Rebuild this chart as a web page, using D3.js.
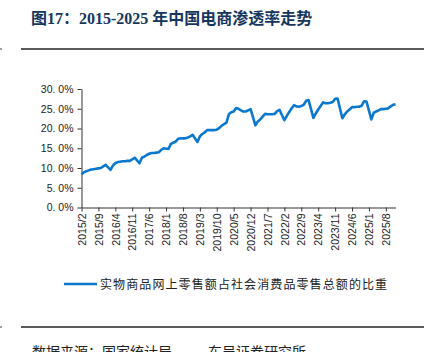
<!DOCTYPE html>
<html>
<head>
<meta charset="utf-8">
<script src="https://cdn.jsdelivr.net/npm/d3@7"></script>
<style>
  body { margin: 0; background: #fff; }
  svg { display: block; }
</style>
</head>
<body>
<svg id="chart"></svg>
<script>
// data: share of online physical goods in total retail sales (%), Jan not published
var years = [2015, 2016, 2017, 2018, 2019, 2020, 2021, 2022, 2023, 2024, 2025];
var share2015 = [8.4, 8.9, 9.2, 9.4, 9.6, 9.7, 9.8, 9.9, 10.0, 10.4, 10.8]; // Feb..Dec
var share2016 = [null, 9.5, 10.6, 11.2, 11.5, 11.6, 11.7, 11.7, 11.8, 11.8, 12.2, 12.6];
var share2017 = [null, 11.2, 12.6, 12.9, 13.3, 13.6, 13.8, 13.8, 13.9, 14.0, 14.6, 15.0];
var share2018 = [null, 14.8, 16.1, 16.4, 16.7, 17.4, 17.5, 17.5, 17.5, 17.7, 18.0, 18.4];
var share2019 = [null, 16.6, 18.0, 18.6, 19.0, 19.6, 19.6, 19.6, 19.6, 19.7, 20.1, 20.7];
var share2020 = [null, 21.5, 23.6, 24.1, 24.3, 25.2, 25.0, 24.6, 24.3, 24.3, 24.6, 24.9];
var share2021 = [null, 20.8, 21.8, 22.3, 23.0, 23.7, 23.6, 23.6, 23.6, 23.7, 24.4, 24.7];
var share2022 = [null, 22.1, 23.2, 24.2, 25.1, 25.9, 25.6, 25.5, 25.7, 26.0, 27.0, 27.2];
var share2023 = [null, 22.7, 23.8, 24.8, 25.7, 26.6, 26.4, 26.4, 26.5, 26.7, 27.5, 27.6];
var share2024 = [null, 22.6, 23.6, 24.3, 24.8, 25.4, 25.4, 25.5, 25.5, 25.8, 26.9, 26.8];
var share2025 = [null, 22.3, 24.0, 24.3, 24.6, 24.9, 24.9, 25.0, 25.1, 25.6, 26.0, 26.1];

var yTicks = [0, 5, 10, 15, 20, 25, 30];
var title = "图17：2015-2025 年中国电商渗透率走势";
var seriesName = "实物商品网上零售额占社会消费品零售总额的比重";
var sourceA = "数据来源：国家统计局，";
var sourceB = "东吴证券研究所";

var width = 429;
var height = 352;

// build month categories
var rows = [share2015, share2016, share2017, share2018, share2019, share2020,
            share2021, share2022, share2023, share2024, share2025];
var data = [];
years.forEach(function (yr, i) {
  var startM = yr === 2015 ? 2 : 1;
  rows[i].forEach(function (v, j) {
    data.push({ cat: yr + "/" + (startM + j), v: v });
  });
});
var cats = data.map(d => d.cat);
var xTickCats = cats.filter((c, i) => i % 7 === 0);

var svg = d3.select("#chart")
  .attr("width", width)
  .attr("height", height);

svg.append("rect").attr("width", width).attr("height", height).attr("fill", "#fff");

// title + rules
svg.append("text")
  .attr("x", 31)
  .attr("y", 24)
  .attr("font-family", "'Liberation Serif', 'Noto Sans CJK SC', serif")
  .attr("font-weight", "bold")
  .attr("font-size", 16)
  .attr("fill", "#17365d")
  .text(title);

[49, 327].forEach(function (yy) {
  svg.append("line").attr("x1", 21).attr("x2", 424).attr("y1", yy).attr("y2", yy)
    .attr("stroke", "#222").attr("stroke-width", 1.5);
  svg.append("line").attr("x1", 0).attr("x2", 2).attr("y1", yy).attr("y2", yy)
    .attr("stroke", "#444").attr("stroke-width", 1);
});

var x = d3.scalePoint().domain(cats).range([81.5, 395.5]);
var y = d3.scaleLinear().domain([0, 30]).range([207.5, 89]);

var fmt = d => d3.format(".1f")(d).replace(".", ". ") + "%";

var gy = svg.append("g")
  .attr("transform", "translate(81.5,0)")
  .call(d3.axisLeft(y).tickValues(yTicks).tickSize(4).tickSizeOuter(0).tickFormat(fmt));
gy.selectAll("text")
  .attr("font-family", "'Liberation Sans', Arial, sans-serif")
  .attr("font-size", 10.5)
  .attr("fill", "#222")
  .attr("x", -8);

var gx = svg.append("g")
  .attr("transform", "translate(0,207.5)")
  .call(d3.axisBottom(x).tickValues(xTickCats).tickSize(4).tickSizeOuter(0));
gx.selectAll("text")
  .attr("font-family", "'Liberation Sans', Arial, sans-serif")
  .attr("font-size", 10.5)
  .attr("fill", "#222")
  .attr("transform", "rotate(-90)")
  .attr("text-anchor", "end")
  .attr("x", -6)
  .attr("y", 0)
  .attr("dy", "0.35em");

svg.selectAll(".domain, .tick line").attr("stroke", "#333").attr("stroke-width", 1);

// line, skipping the unpublished January points
var line = d3.line()
  .x(d => x(d.cat))
  .y(d => y(d.v));

svg.append("path")
  .datum(data.filter(d => d.v != null))
  .attr("d", line)
  .attr("fill", "none")
  .attr("stroke", "#0b78d0")
  .attr("stroke-width", 2.6)
  .attr("stroke-linejoin", "round");

// legend
svg.append("line")
  .attr("x1", 64).attr("x2", 97).attr("y1", 284).attr("y2", 284)
  .attr("stroke", "#0b78d0").attr("stroke-width", 2.6);
svg.append("text")
  .attr("x", 100)
  .attr("y", 288.5)
  .attr("font-family", "'Noto Sans CJK SC', sans-serif")
  .attr("font-size", 12)
  .attr("letter-spacing", 1.1)
  .attr("fill", "#222")
  .text(seriesName);

// source (cut by bottom edge, as in the original page)
svg.append("text")
  .attr("x", 32).attr("y", 357)
  .attr("font-family", "'Noto Sans CJK SC', sans-serif")
  .attr("font-size", 14)
  .attr("fill", "#222")
  .text(sourceA);
svg.append("text")
  .attr("x", 208).attr("y", 357)
  .attr("font-family", "'Noto Sans CJK SC', sans-serif")
  .attr("font-size", 14)
  .attr("fill", "#222")
  .text(sourceB);
</script>
</body>
</html>
